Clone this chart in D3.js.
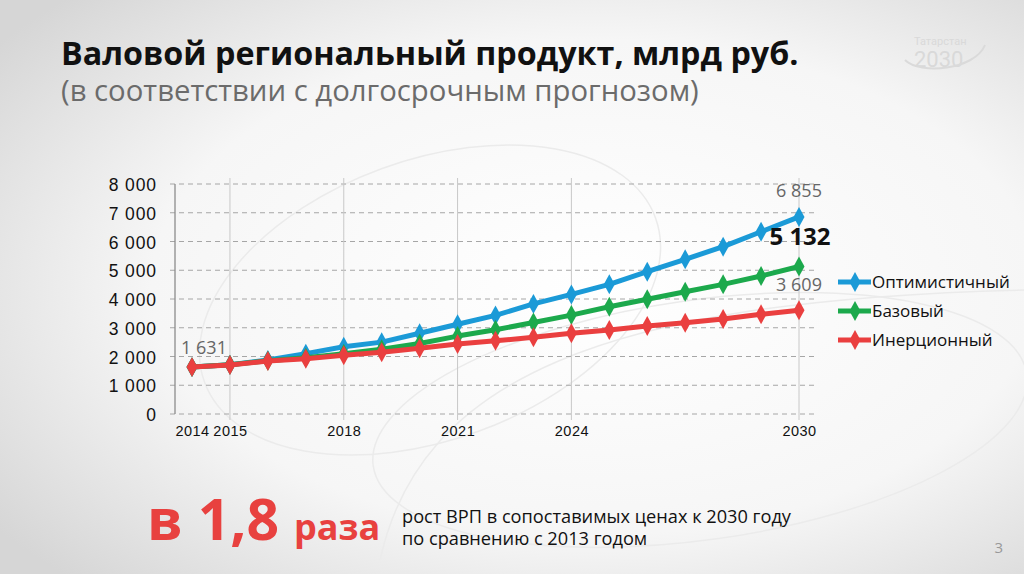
<!DOCTYPE html>
<html><head><meta charset="utf-8">
<script src="https://cdn.jsdelivr.net/npm/d3@7/dist/d3.min.js"></script>
<style>html,body{margin:0;padding:0;overflow:hidden;background:#fff}</style>
</head><body>
<svg id="c" width="1024" height="574"></svg>
<script>
const years = [2014,2015,2016,2017,2018,2019,2020,2021,2022,2023,2024,2025,2026,2027,2028,2029,2030];
const xTickYears = [2014,2015,2018,2021,2024,2030];
const gridYears = [2015,2018,2021,2024,2030];
const yTicks = [0,1000,2000,3000,4000,5000,6000,7000,8000];
const optimistic = [1631,1710,1880,2100,2340,2500,2810,3120,3430,3830,4160,4510,4950,5380,5820,6340,6855];
const base       = [1631,1710,1850,1960,2100,2250,2450,2710,2930,3180,3440,3730,3990,4250,4510,4800,5132];
const inertial   = [1631,1705,1843,1925,2041,2145,2284,2435,2545,2667,2806,2922,3061,3177,3304,3467,3609];
const seriesNames = ["Оптимистичный","Базовый","Инерционный"];
const seriesColors = ["#1b9ad7","#1ca94c","#ea3f3f"];
const seriesData = [optimistic, base, inertial];

const svg = d3.select("#c");
const defs = svg.append("defs");
const rg = defs.append("radialGradient").attr("id","bg").attr("cx","58%").attr("cy","50%").attr("r","72%");
rg.append("stop").attr("offset","0%").attr("stop-color","#ffffff");
rg.append("stop").attr("offset","60%").attr("stop-color","#f6f6f6");
rg.append("stop").attr("offset","100%").attr("stop-color","#d6d6d6");
svg.append("rect").attr("width",1024).attr("height",574).attr("fill","url(#bg)");

// faint swooshes
const sw = svg.append("g").attr("fill","none").attr("stroke","#ebebeb").attr("stroke-width",1.5);
sw.append("ellipse").attr("cx",430).attr("cy",300).attr("rx",240).attr("ry",140).attr("transform","rotate(-20 430 300)");
sw.append("ellipse").attr("cx",700).attr("cy",420).attr("rx",330).attr("ry",120).attr("transform","rotate(-8 700 420)");
sw.append("path").attr("d","M380,560 C420,380 600,300 1024,290");

// logo
const logo = svg.append("g").attr("fill","#d9d9d9").attr("font-family","Roboto, sans-serif");
logo.append("text").attr("x",914).attr("y",45).attr("font-size",11).text("Татарстан");
logo.append("text").attr("x",914).attr("y",67).attr("font-size",22).text("2030");
svg.append("path").attr("d","M905,60 C920,75 975,70 985,45").attr("fill","none").attr("stroke","#dadada").attr("stroke-width",2);

// titles
svg.append("text").attr("x",61).attr("y",65).attr("font-family","'Open Sans', sans-serif").attr("font-weight",700)
  .attr("font-size",32.3).attr("fill","#111").text("Валовой региональный продукт, млрд руб.");
svg.append("text").attr("x",61).attr("y",101).attr("font-family","'Open Sans', sans-serif")
  .attr("font-size",29.3).attr("fill","#6b6b6b").text("(в соответствии с долгосрочным прогнозом)");

// scales
const x = d3.scalePoint().domain(years).range([192,799]);
const y = d3.scaleLinear().domain([0,8000]).range([414,184]);
const plotRight = 818, axisX = 175;

// horizontal grid
const g = svg.append("g");
g.selectAll(".hg").data(yTicks).join("line")
  .attr("x1",axisX-5).attr("x2",plotRight).attr("y1",d=>y(d)).attr("y2",d=>y(d))
  .attr("stroke","#a6a6a6").attr("stroke-width",1).attr("stroke-dasharray","5,4");
// vertical grid
g.selectAll(".vg").data(gridYears).join("line")
  .attr("x1",d=>x(d)).attr("x2",d=>x(d)).attr("y1",178).attr("y2",420)
  .attr("stroke","#c8c8c8").attr("stroke-width",1);
// y axis line
g.append("line").attr("x1",axisX).attr("x2",axisX).attr("y1",184).attr("y2",414).attr("stroke","#8c8c8c").attr("stroke-width",1.3);

// y axis labels via d3 axis
const fmt = d=>d3.format(",")(d).replace(/,/g," ");
const yAxis = d3.axisLeft(y).tickValues(yTicks).tickSize(0).tickPadding(0).tickFormat(fmt);
const ya = svg.append("g").attr("transform",`translate(157,1)`).call(yAxis);
ya.select(".domain").remove();
ya.selectAll("text").attr("font-family","'Liberation Sans', Arial, sans-serif").attr("font-size",17.5)
  .attr("letter-spacing",0.9).attr("fill","#111");

// x axis labels
const xAxis = d3.axisBottom(x).tickValues(xTickYears).tickSize(0).tickPadding(0);
const xa = svg.append("g").attr("transform","translate(0,426)").call(xAxis);
xa.select(".domain").remove();
xa.selectAll("text").attr("font-family","'Liberation Sans', Arial, sans-serif").attr("font-size",14.5)
  .attr("letter-spacing",0.5).attr("fill","#111");

// lines
const line = d3.line().x((d,i)=>x(years[i])).y(d=>y(d));
const diamond = d3.symbol().type(d3.symbolDiamond).size(95);
[0,1,2].forEach(k=>{
  const gs = svg.append("g");
  gs.append("path").datum(seriesData[k]).attr("d",line).attr("fill","none")
    .attr("stroke",seriesColors[k]).attr("stroke-width",5).attr("stroke-linejoin","round");
  gs.selectAll("path.m").data(seriesData[k]).join("path").attr("class","m")
    .attr("d",diamond).attr("transform",(d,i)=>`translate(${x(years[i])},${y(d)}) scale(1.05,1.1)`)
    .attr("fill",seriesColors[k]);
});

// data labels
const lbl = (xx,yy,t,opts)=>svg.append("text").attr("x",xx).attr("y",yy).attr("text-anchor","middle")
  .attr("font-family","'Open Sans', sans-serif").attr("font-size",opts.size).attr("font-weight",opts.w||400)
  .attr("fill",opts.c).text(t);
lbl(x(2014)+12, 354, fmt(optimistic[0]), {size:18, c:"#666"});
lbl(x(2030), 197, fmt(optimistic[16]), {size:18, c:"#666"});
lbl(x(2030)+1, 245, fmt(base[16]), {size:24, w:700, c:"#111"});
lbl(x(2030), 291, fmt(inertial[16]), {size:18, c:"#666"});

// legend
const lg = svg.append("g").attr("transform","translate(838,282)");
seriesNames.forEach((n,k)=>{
  const row = lg.append("g").attr("transform",`translate(0,${k*29})`);
  row.append("line").attr("x1",0).attr("x2",33).attr("y1",0).attr("y2",0).attr("stroke",seriesColors[k]).attr("stroke-width",5);
  row.append("path").attr("d",diamond).attr("transform","translate(17,0) scale(1.05,1.1)").attr("fill",seriesColors[k]);
  row.append("text").attr("x",34).attr("y",6).attr("font-family","'Open Sans', sans-serif").attr("font-size",17).attr("fill","#111").text(n);
});

// bottom text
const bt = svg.append("text").attr("x",147).attr("y",540).attr("font-family","'Open Sans', sans-serif")
  .attr("font-weight",700).attr("fill","#e8413f");
bt.append("tspan").attr("font-size",57).text("в 1,8 ");
bt.append("tspan").attr("font-size",36).text("раза");
svg.append("text").attr("x",402).attr("y",523).attr("font-family","'Open Sans', sans-serif").attr("font-size",18.2).attr("fill","#111")
  .text("рост ВРП в сопоставимых ценах к 2030 году");
svg.append("text").attr("x",402).attr("y",545).attr("font-family","'Open Sans', sans-serif").attr("font-size",18.2).attr("fill","#111")
  .text("по сравнению с 2013 годом");
svg.append("text").attr("x",1003).attr("y",553).attr("text-anchor","end").attr("font-family","'Open Sans', sans-serif").attr("font-size",15).attr("fill","#999").text("3");
</script>
</body></html>
